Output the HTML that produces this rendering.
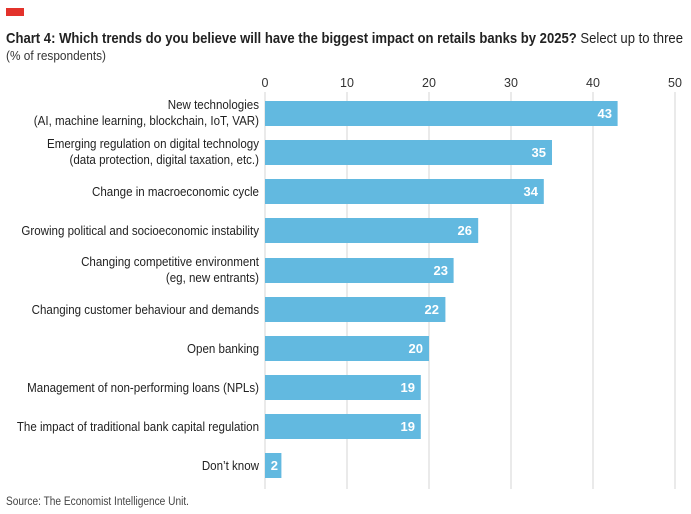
<!DOCTYPE html><html><head><style>body{margin:0;background:#fff}svg{display:block}text{font-family:"Liberation Sans",sans-serif}</style></head><body>
<svg width="691" height="514" xmlns="http://www.w3.org/2000/svg">
<rect x="6" y="8" width="18" height="8" fill="#e3322b"/>
<text x="6" y="43" font-size="15" fill="#222" textLength="677" lengthAdjust="spacingAndGlyphs"><tspan font-weight="bold">Chart 4: Which trends do you believe will have the biggest impact on retails banks by 2025?</tspan> Select up to three</text>
<text x="6" y="60" font-size="13" fill="#333" textLength="100" lengthAdjust="spacingAndGlyphs">(% of respondents)</text>
<g stroke="#d6d6d6" stroke-width="1">
<line x1="265" y1="92" x2="265" y2="489"/><line x1="347" y1="92" x2="347" y2="489"/><line x1="429" y1="92" x2="429" y2="489"/><line x1="511" y1="92" x2="511" y2="489"/><line x1="593" y1="92" x2="593" y2="489"/><line x1="675" y1="92" x2="675" y2="489"/></g>
<g font-size="12.5" fill="#333" text-anchor="middle">
<text x="265" y="87">0</text><text x="347" y="87">10</text><text x="429" y="87">20</text><text x="511" y="87">30</text><text x="593" y="87">40</text><text x="675" y="87">50</text></g>
<g fill="#62b9e0">
<rect x="265" y="101" width="352.6" height="25"/>
<rect x="265" y="140" width="287" height="25"/>
<rect x="265" y="179" width="278.8" height="25"/>
<rect x="265" y="218" width="213.2" height="25"/>
<rect x="265" y="258" width="188.6" height="25"/>
<rect x="265" y="297" width="180.4" height="25"/>
<rect x="265" y="336" width="164" height="25"/>
<rect x="265" y="375" width="155.8" height="25"/>
<rect x="265" y="414" width="155.8" height="25"/>
<rect x="265" y="453" width="16.4" height="25"/></g>
<g font-size="13" font-weight="bold" fill="#fff" text-anchor="end">
<text x="612" y="118">43</text><text x="546" y="157">35</text><text x="538" y="196">34</text><text x="472" y="235">26</text><text x="448" y="275">23</text><text x="439" y="314">22</text><text x="423" y="353">20</text><text x="415" y="392">19</text><text x="415" y="431">19</text><text x="278" y="470">2</text></g>
<g font-size="12.5" fill="#222" text-anchor="end" transform="translate(259,0) scale(0.925,1) translate(-259,0)">
<text x="259" y="109">New technologies</text><text x="259" y="125">(AI, machine learning, blockchain, IoT, VAR)</text>
<text x="259" y="148">Emerging regulation on digital technology</text><text x="259" y="164">(data protection, digital taxation, etc.)</text>
<text x="259" y="196">Change in macroeconomic cycle</text>
<text x="259" y="235">Growing political and socioeconomic instability</text>
<text x="259" y="266">Changing competitive environment</text><text x="259" y="282">(eg, new entrants)</text>
<text x="259" y="314">Changing customer behaviour and demands</text>
<text x="259" y="353">Open banking</text>
<text x="259" y="392">Management of non-performing loans (NPLs)</text>
<text x="259" y="431">The impact of traditional bank capital regulation</text>
<text x="259" y="470">Don’t know</text></g>
<text x="6" y="505" font-size="11.5" fill="#444" textLength="183" lengthAdjust="spacingAndGlyphs">Source: The Economist Intelligence Unit.</text>
</svg></body></html>
